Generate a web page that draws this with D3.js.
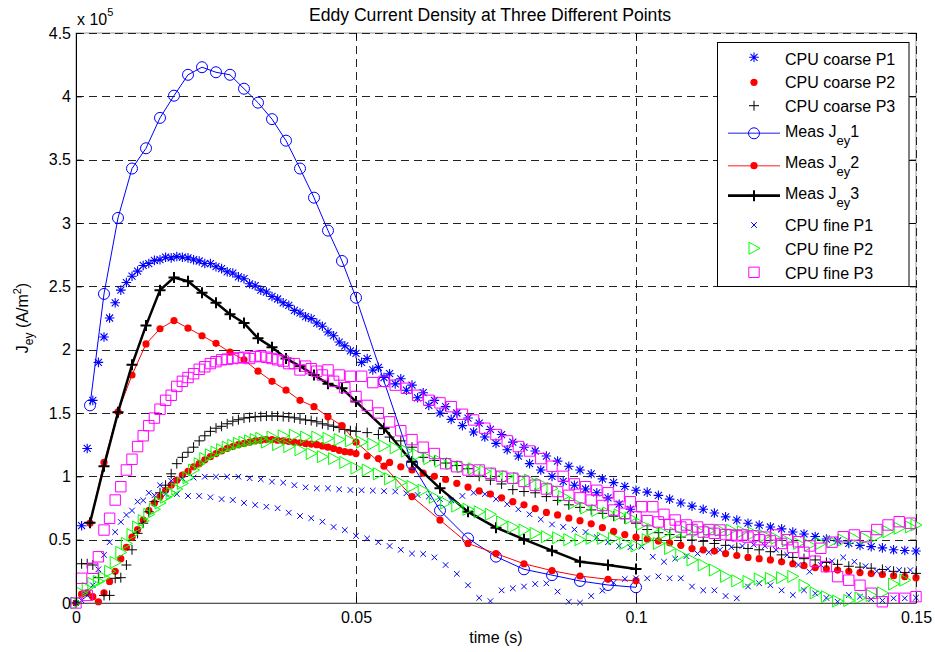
<!DOCTYPE html>
<html><head><meta charset="utf-8">
<script src="https://cdn.jsdelivr.net/npm/d3@7"></script>
<style>
body{margin:0;background:#fff;}
text{font-family:"Liberation Sans",Arial,Helvetica,sans-serif;fill:#000;}
</style></head>
<body><svg id="c" width="935" height="652"></svg>
<script>
// ---------------- DATA (values in units of 1e5 A/m^2) ----------------
const xTicks = [0, 0.05, 0.1, 0.15];
const xTickLabels = ["0", "0.05", "0.1", "0.15"];
const yTicks = [0, 0.5, 1, 1.5, 2, 2.5, 3, 3.5, 4, 4.5];
const yTickLabels = ["0", "0.5", "1", "1.5", "2", "2.5", "3", "3.5", "4", "4.5"];

// time grids
const tCoarseP1 = d3.range(1, 101).map(k => k / 1000).concat(d3.range(102, 151, 2).map(k => k / 1000));
const tCoarse = d3.range(0, 51).map(k => k / 1000).concat(d3.range(52, 151, 2).map(k => k / 1000));
const tFine = d3.range(0, 151).map(k => k / 1000);
const tMeas = d3.range(1, 21).map(k => k * 0.0025).concat(d3.range(11, 21).map(k => k * 0.005));

// CPU coarse P1 (blue *)
const coarseP1 = [0.61,1.22,1.60,1.90,2.10,2.25,2.37,2.47,2.53,2.58,
 2.62,2.665,2.68,2.705,2.71,2.73,2.725,2.735,2.73,2.725,
 2.71,2.70,2.68,2.68,2.655,2.64,2.615,2.605,2.575,2.56,
 2.52,2.505,2.47,2.455,2.42,2.40,2.37,2.35,2.31,2.29,
 2.26,2.245,2.21,2.185,2.14,2.11,2.06,2.03,1.99,1.97,
 1.90,1.93,1.84,1.86,1.78,1.81,1.73,1.77,1.68,1.72,
 1.62,1.66,1.56,1.60,1.50,1.55,1.45,1.50,1.40,1.46,
 1.35,1.42,1.31,1.37,1.26,1.33,1.21,1.27,1.16,1.23,
 1.10,1.20,1.05,1.16,1.00,1.12,0.96,1.08,0.93,1.05,
 0.90,1.02,0.87,0.98,0.83,0.95,0.78,0.92,0.74,0.89,
 0.875,0.85,0.82,0.79,0.765,0.74,0.71,0.68,0.655,0.63,
 0.615,0.60,0.585,0.56,0.545,0.525,0.505,0.49,0.47,0.455,
 0.445,0.435,0.42,0.415,0.41];

// CPU coarse P2 (red dots)
const coarseP2 = [0.0,0.07,0.08,0.05,0.01,0.08,0.17,0.25,0.35,0.44,
 0.52,0.58,0.655,0.73,0.79,0.84,0.89,0.93,0.97,1.01,
 1.04,1.075,1.10,1.13,1.155,1.18,1.20,1.22,1.235,1.25,
 1.26,1.27,1.28,1.285,1.29,1.29,1.285,1.28,1.275,1.27,
 1.265,1.26,1.255,1.25,1.24,1.23,1.22,1.205,1.195,1.19,1.18,
 1.16,1.14,1.11,1.075,1.05,1.025,1.0,0.975,0.945,0.915,
 0.885,0.86,0.83,0.80,0.775,0.745,0.715,0.695,0.67,0.65,
 0.625,0.595,0.565,0.54,0.52,0.505,0.49,0.475,0.455,0.43,
 0.42,0.41,0.39,0.375,0.36,0.35,0.34,0.325,0.31,0.295,
 0.28,0.27,0.26,0.25,0.24,0.232,0.225,0.215,0.208,0.20];

// CPU coarse P3 (black +)
const coarseP3 = [0.0,0.31,0.31,0.30,0.20,0.06,0.06,0.195,0.20,0.30,
 0.42,0.55,0.63,0.72,0.80,0.87,0.93,1.02,1.10,1.15,
 1.19,1.23,1.28,1.32,1.355,1.38,1.395,1.415,1.435,1.447,
 1.46,1.465,1.47,1.473,1.476,1.476,1.476,1.472,1.468,1.462,
 1.452,1.445,1.44,1.43,1.415,1.405,1.395,1.385,1.37,1.36,1.355,
 1.345,1.33,1.31,1.28,1.23,1.15,1.125,1.105,1.085,1.06,
 1.00,0.97,0.94,0.895,0.88,0.87,0.84,0.81,0.775,0.755,
 0.735,0.708,0.685,0.665,0.63,0.58,0.555,0.54,0.52,0.497,
 0.487,0.47,0.455,0.44,0.43,0.42,0.405,0.38,0.36,0.35,
 0.34,0.32,0.305,0.29,0.283,0.275,0.265,0.25,0.24,0.234];

// Measured J_ey at three points
const measJ1 = [1.56,2.44,3.04,3.43,3.59,3.83,4.005,4.17,4.23,4.19,
 4.17,4.06,3.95,3.82,3.65,3.43,3.20,2.94,2.70,2.41,
 1.75,1.097,0.73,0.51,0.366,0.266,0.22,0.174,0.142,0.124];
const measJ2 = [0.63,1.11,1.51,1.80,2.045,2.165,2.23,2.17,2.11,2.05,
 1.98,1.92,1.83,1.75,1.68,1.60,1.55,1.47,1.40,1.27,
 1.08,0.84,0.655,0.47,0.39,0.31,0.255,0.213,0.187,0.176];
const measJ3 = [0.634,1.08,1.505,1.88,2.19,2.47,2.57,2.54,2.45,2.37,
 2.28,2.21,2.09,2.02,1.93,1.87,1.80,1.73,1.695,1.59,
 1.38,1.115,0.905,0.72,0.595,0.503,0.413,0.326,0.30,0.268];

// CPU fine P1 (blue x)
const fineP1 = [0.0,0.02,0.06,0.14,0.266,0.38,0.48,0.56,0.64,0.695,
 0.73,0.80,0.81,0.87,0.85,0.93,0.86,0.965,0.86,0.985,
 0.845,0.99,0.845,0.997,0.835,0.997,0.82,0.997,0.813,0.997,
 0.79,0.985,0.774,0.977,0.76,0.958,0.748,0.95,0.713,0.93,
 0.687,0.913,0.669,0.905,0.642,0.905,0.60,0.898,0.576,0.892,
 0.53,0.89,0.51,0.887,0.48,0.883,0.45,0.88,0.42,0.866,
 0.39,0.853,0.387,0.84,0.36,0.82,0.30,0.81,0.23,0.845,
 0.14,0.87,0.04,0.86,0.015,0.82,0.10,0.78,0.116,0.74,
 0.13,0.70,0.15,0.66,0.155,0.62,0.09,0.60,0.01,0.58,
 0.003,0.56,0.055,0.52,0.097,0.48,0.16,0.45,0.19,0.44,
 0.195,0.445,0.195,0.365,0.21,0.326,0.195,0.35,0.195,0.37,
 0.13,0.39,0.10,0.40,0.10,0.42,0.055,0.44,0.037,0.45,
 0.13,0.46,0.155,0.45,0.14,0.42,0.10,0.38,0.063,0.30,
 0.10,0.247,0.076,0.30,0.04,0.33,0.01,0.36,0.063,0.326,
 0.05,0.29,0.03,0.25,0.02,0.27,0.037,0.26,0.037,0.26,
 0.042];

// CPU fine P2 (green >)
const fineP2 = [0.0,0.077,0.116,0.155,0.17,0.20,0.25,0.32,0.40,0.47,
 0.54,0.60,0.65,0.70,0.74,0.79,0.835,0.865,0.90,0.945,
 0.99,1.05,1.10,1.14,1.17,1.19,1.21,1.23,1.245,1.26,
 1.27,1.28,1.29,1.30,1.27,1.31,1.25,1.32,1.235,1.325,
 1.21,1.31,1.18,1.31,1.155,1.30,1.14,1.29,1.11,1.28,
 1.065,1.27,1.05,1.255,1.02,1.24,0.98,1.225,0.95,1.20,
 0.92,1.17,0.89,1.14,0.835,1.12,0.79,1.10,0.765,1.075,
 0.74,1.06,0.72,1.04,0.70,1.02,0.64,1.0,0.60,0.985,
 0.576,0.97,0.55,0.94,0.523,0.905,0.515,0.84,0.50,0.79,
 0.50,0.75,0.51,0.73,0.51,0.71,0.51,0.695,0.47,0.67,
 0.45,0.62,0.50,0.58,0.47,0.55,0.43,0.55,0.38,0.56,
 0.34,0.57,0.30,0.57,0.26,0.575,0.21,0.575,0.175,0.563,
 0.17,0.55,0.19,0.53,0.195,0.51,0.20,0.49,0.21,0.47,
 0.14,0.458,0.08,0.47,0.05,0.484,0.015,0.497,0.02,0.51,
 0.04,0.51,0.06,0.53,0.08,0.563,0.15,0.59,0.18,0.60,
 0.616];

// CPU fine P3 (magenta squares)
const fineP3 = [0.0,0.195,0.06,0.274,0.365,0.576,0.669,0.813,0.918,1.05,
 1.135,1.235,1.32,1.40,1.46,1.53,1.60,1.64,1.71,1.75,
 1.78,1.81,1.845,1.865,1.89,1.905,1.92,1.925,1.93,1.935,
 1.94,1.93,1.945,1.95,1.94,1.93,1.92,1.91,1.89,1.89,
 1.84,1.87,1.85,1.83,1.80,1.84,1.75,1.80,1.70,1.79,
 1.63,1.79,1.56,1.74,1.50,1.75,1.43,1.72,1.36,1.695,
 1.29,1.64,1.23,1.60,1.18,1.58,1.10,1.55,1.076,1.49,
 1.05,1.445,1.05,1.38,1.024,1.33,1.0,1.28,0.985,1.235,
 0.96,1.20,0.93,1.14,0.90,1.08,0.88,1.0,0.85,0.94,
 0.83,0.918,0.813,0.89,0.77,0.87,0.734,0.84,0.708,0.80,
 0.68,0.76,0.65,0.76,0.64,0.70,0.62,0.655,0.60,0.616,
 0.58,0.60,0.56,0.58,0.55,0.576,0.54,0.537,0.53,0.537,
 0.52,0.53,0.50,0.52,0.49,0.537,0.47,0.50,0.44,0.484,
 0.40,0.45,0.33,0.432,0.287,0.48,0.208,0.523,0.18,0.537,
 0.14,0.523,0.077,0.58,0.01,0.616,0.037,0.642,0.037,0.63,
 0.05];

const legendLabels = ["CPU coarse P1","CPU coarse P2","CPU coarse P3","Meas J|1","Meas J|2","Meas J|3","CPU fine P1","CPU fine P2","CPU fine P3"];

// ---------------- CHART ----------------
const M = {l: 76, r: 916, t: 33, b: 603};
const x = d3.scaleLinear().domain([0, 0.15]).range([M.l, M.r]);
const y = d3.scaleLinear().domain([0, 4.5]).range([M.b, M.t]);
const svg = d3.select("#c");
svg.append("rect").attr("width", 935).attr("height", 652).attr("fill", "#fff");

// frame (light) then dashed grid
svg.append("rect").attr("x", M.l).attr("y", M.t).attr("width", M.r - M.l).attr("height", M.b - M.t)
  .attr("fill", "none").attr("stroke", "#999").attr("stroke-width", 1);
const grid = svg.append("g").attr("stroke", "#222").attr("stroke-width", 1).attr("stroke-dasharray", "8,5");
grid.selectAll(".gx").data(xTicks).join("line")
  .attr("x1", d => Math.round(x(d)) + 0.5).attr("x2", d => Math.round(x(d)) + 0.5)
  .attr("y1", M.t).attr("y2", M.b);
grid.selectAll(".gy").data(yTicks).join("line")
  .attr("y1", d => Math.round(y(d)) + 0.5).attr("y2", d => Math.round(y(d)) + 0.5)
  .attr("x1", M.l).attr("x2", M.r);

// marker shapes
function mpath(type) {
  switch (type) {
    case "star": { const h = 4.8, d = 3.5;
      return `M${-h},0H${h}M0,${-h}V${h}M${-d},${-d}L${d},${d}M${-d},${d}L${d},${-d}`; }
    case "plus": { const h = 5; return `M${-h},0H${h}M0,${-h}V${h}`; }
    case "plusL": { const h = 5.5; return `M${-h},0H${h}M0,${-h}V${h}`; }
    case "x": { const h = 2.8; return `M${-h},${-h}L${h},${h}M${-h},${h}L${h},${-h}`; }
    case "tri": return "M-5,-6L6,0L-5,6Z";
    case "sq": return "M-5.2,-5.2H5.2V5.2H-5.2Z";
    case "circle": return d3.symbol(d3.symbolCircle, Math.PI * 5.5 * 5.5)();
    case "dot": return d3.symbol(d3.symbolCircle, Math.PI * 3.6 * 3.6)();
  }
}
const styles = [
  {type: "star", color: "#0000ff", fill: "none", sw: 1.1},
  {type: "dot", color: "#ff0000", fill: "#ff0000", sw: 0},
  {type: "plus", color: "#000", fill: "none", sw: 1},
  {type: "circle", color: "#0000ff", fill: "none", sw: 1, line: 1},
  {type: "dot", color: "#ff0000", fill: "#ff0000", sw: 0, line: 1},
  {type: "plusL", color: "#000", fill: "none", sw: 2, line: 2.5},
  {type: "x", color: "#0000ff", fill: "none", sw: 1},
  {type: "tri", color: "#00ff00", fill: "none", sw: 1},
  {type: "sq", color: "#ff00ff", fill: "none", sw: 1}
];
const series = [
  [tCoarseP1, coarseP1], [tCoarse, coarseP2], [tCoarse, coarseP3],
  [tMeas, measJ1], [tMeas, measJ2], [tMeas, measJ3],
  [tFine, fineP1], [tFine, fineP2], [tFine, fineP3]
];
const lineGen = d3.line().x(d => x(d[0])).y(d => y(d[1]));
series.forEach(([t, v], i) => {
  const s = styles[i];
  const pts = d3.zip(t, v);
  const g = svg.append("g");
  if (s.line) {
    g.append("path").datum(pts).attr("d", lineGen).attr("fill", "none")
      .attr("stroke", s.color).attr("stroke-width", s.line).attr("stroke-linejoin", "round");
  }
  g.selectAll("path.m").data(pts).join("path").attr("class", "m")
    .attr("transform", d => `translate(${x(d[0])},${y(d[1])})`)
    .attr("d", mpath(s.type))
    .attr("fill", s.fill).attr("stroke", s.sw ? s.color : "none").attr("stroke-width", s.sw);
});

// axes
const fs = "16px";
const axL = svg.append("g").attr("transform", `translate(${M.l},0)`)
  .call(d3.axisLeft(y).tickValues(yTicks).tickFormat((d, i) => yTickLabels[i]).tickSizeInner(-6).tickSizeOuter(0).tickPadding(5));
const axR = svg.append("g").attr("transform", `translate(${M.r},0)`)
  .call(d3.axisRight(y).tickValues(yTicks).tickFormat("").tickSizeInner(-6).tickSizeOuter(0));
const axB = svg.append("g").attr("transform", `translate(0,${M.b})`)
  .call(d3.axisBottom(x).tickValues(xTicks).tickFormat((d, i) => xTickLabels[i]).tickSizeInner(-6).tickSizeOuter(0).tickPadding(9));
const axT = svg.append("g").attr("transform", `translate(0,${M.t})`)
  .call(d3.axisTop(x).tickValues(xTicks).tickFormat("").tickSizeInner(-6).tickSizeOuter(0));
[axL, axB, axR, axT].forEach(a => {
  a.selectAll("text").style("font-size", fs).attr("font-family", null).attr("fill", "#000");
  a.selectAll("line").attr("stroke", "#000");
  a.select(".domain").attr("stroke", "#000");
});
axR.select(".domain").attr("stroke", "none");
axT.select(".domain").attr("stroke", "none");
axB.select(".domain").attr("stroke", "#555");

// multiplier
const mult = svg.append("text").attr("x", 77).attr("y", 25).style("font-size", fs);
mult.append("tspan").text("x 10");
mult.append("tspan").attr("dy", -9).style("font-size", "11px").text("5");

// title & labels
svg.append("text").attr("x", 490).attr("y", 21).attr("text-anchor", "middle").style("font-size", "17.6px")
  .text("Eddy Current Density at Three Different Points");
svg.append("text").attr("x", 496).attr("y", 643).attr("text-anchor", "middle").style("font-size", fs).text("time (s)");
const yl = svg.append("text").attr("transform", "translate(28,318) rotate(-90)").attr("text-anchor", "middle").style("font-size", fs);
yl.append("tspan").text("J");
yl.append("tspan").attr("dy", 5).style("font-size", "12px").text("ey");
yl.append("tspan").attr("dy", -5).text(" (A/m");
yl.append("tspan").attr("dy", -7).style("font-size", "11px").text("2");
yl.append("tspan").attr("dy", 7).text(")");

// legend
const lg = svg.append("g");
lg.append("rect").attr("x", 717.5).attr("y", 42.5).attr("width", 191.5).attr("height", 244)
  .attr("fill", "#fff").attr("stroke", "#000").attr("stroke-width", 1);
const baseY = [65, 88.3, 111.7, 136.7, 168.3, 199, 230.7, 255, 279];
const markY = [57.3, 82.3, 105.7, 133.3, 165.7, 195.7, 225, 248.3, 272.3];
legendLabels.forEach((lab, i) => {
  const s = styles[i];
  if (s.line) {
    lg.append("line").attr("x1", 728).attr("x2", 780).attr("y1", markY[i]).attr("y2", markY[i])
      .attr("stroke", s.color).attr("stroke-width", s.line === 1 ? 1.6 : 2.8)
      .attr("stroke-opacity", s.line === 1 ? 0.6 : 1);
  }
  lg.append("path").attr("transform", `translate(754,${markY[i]})`).attr("d", mpath(s.type))
    .attr("fill", s.fill).attr("stroke", s.sw ? s.color : "none").attr("stroke-width", s.sw);
  const tx = lg.append("text").attr("x", 785).attr("y", baseY[i]).style("font-size", fs);
  if (lab.includes("|")) {
    const [a, b] = lab.split("|");
    tx.append("tspan").text(a);
    tx.append("tspan").attr("dy", 8).style("font-size", "13px").text("ey");
    tx.append("tspan").attr("dy", -8).text(b);
  } else tx.text(lab);
});
</script>
</body></html>
